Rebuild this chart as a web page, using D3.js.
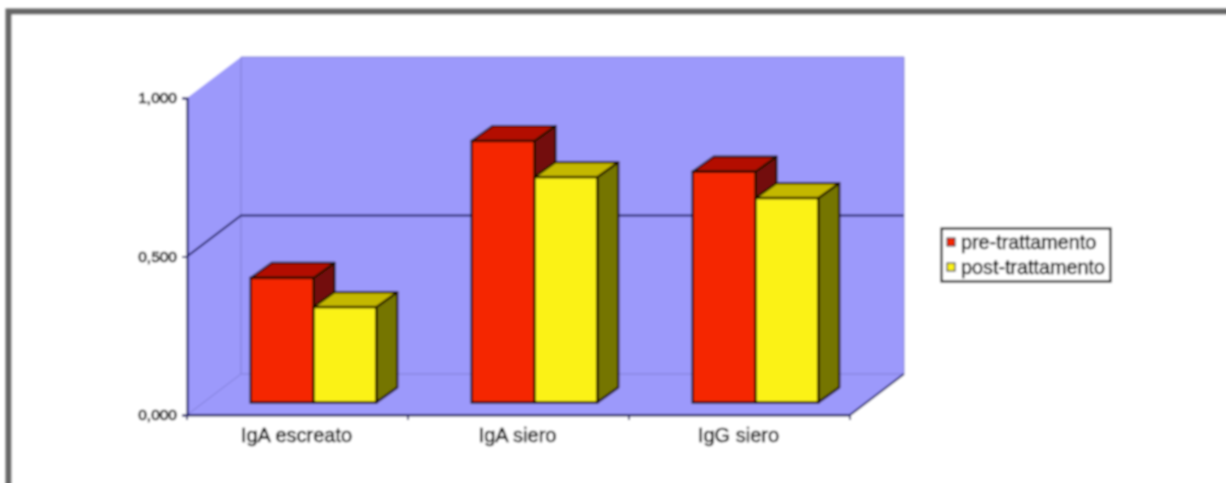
<!DOCTYPE html>
<html><head><meta charset="utf-8">
<script src="https://cdn.jsdelivr.net/npm/d3@7/dist/d3.min.js"></script>
<style>
html,body{margin:0;padding:0;background:#fff;width:1226px;height:483px;overflow:hidden}
svg{display:block;font-family:"Liberation Sans",Arial,sans-serif}
</style></head><body><div id="c"></div>
<script>
const categories=["IgA escreato","IgA siero","IgG siero"];
const seriesNames=["pre-trattamento","post-trattamento"];
const preValues=[0.393,0.825,0.728];
const postValues=[0.301,0.711,0.645];
const yTicks=[0,0.5,1];
const W=1226,H=483;
const svg=d3.select("#c").append("svg").attr("width",W).attr("height",H);
const defs=svg.append("defs");
defs.append("filter").attr("id","soft").attr("filterUnits","userSpaceOnUse").attr("x",0).attr("y",0).attr("width",W).attr("height",H)
  .append("feGaussianBlur").attr("stdDeviation",0.85);
const root=svg.append("g").attr("filter","url(#soft)");

const y=d3.scaleLinear().domain([0,1]).range([415,98]);
const x=d3.scaleBand().domain(categories).range([187,850]);
const dX=54,dY=-41;
const line="#1c1c66";
const pts=a=>a.map(p=>p.join(",")).join(" ");

// frame
root.append("rect").attr("x",8.5).attr("y",11.5).attr("width",1400).attr("height",900)
  .attr("fill","#fff").attr("stroke","#666").attr("stroke-width",6);

// walls
const x0=x.range()[0],x1=x.range()[1];
root.append("polygon").attr("fill","#9c99fb").attr("points",pts([[x0,y(1)],[x0+dX,y(1)+dY],[x1+dX,y(1)+dY],[x1+dX,y(0)+dY],[x1,y(0)],[x0,y(0)]]));
root.append("line").attr("x1",x0+dX).attr("x2",x0+dX).attr("y1",y(1)+dY).attr("y2",y(0)+dY).attr("stroke","#7f7cd6").attr("stroke-width",1);
root.append("line").attr("x1",x0+dX).attr("x2",x1+dX).attr("y1",y(1)+dY).attr("y2",y(1)+dY).attr("stroke","#7f7cd6").attr("stroke-width",1);
root.append("line").attr("x1",x1+dX).attr("x2",x1+dX).attr("y1",y(1)+dY).attr("y2",y(0)+dY).attr("stroke","#7f7cd6").attr("stroke-width",1);
root.append("polyline").attr("fill","none").attr("stroke","#7f7cd6").attr("points",pts([[x0,y(0)],[x0+dX,y(0)+dY],[x1+dX,y(0)+dY]]));
root.append("polyline").attr("fill","none").attr("stroke",line).attr("stroke-width",2).attr("points",pts([[x0,y(0)],[x1,y(0)],[x1+dX,y(0)+dY]]));
root.append("polyline").attr("fill","none").attr("stroke",line).attr("stroke-width",2).attr("points",pts([[x0,y(0.5)],[x0+dX,y(0.5)+dY],[x1+dX,y(0.5)+dY]]));

// axes
const yAxis=d3.axisLeft(y).tickValues(yTicks).tickSize(5).tickFormat(d=>d3.format(".3f")(d).replace(".",","));
const gy=root.append("g").attr("transform",`translate(${x0},0)`).call(yAxis);
const xAxis=d3.axisBottom(x).tickSize(0);
const gx=root.append("g").attr("transform","translate(0,415)").call(xAxis);
gx.selectAll(".tick text").attr("dy",0).attr("y",27).attr("dx",-1);
const bounds=[...categories.map(c=>x(c)),x1];
root.selectAll("line.xt").data(bounds).join("line").attr("class","xt")
  .attr("x1",d=>d).attr("x2",d=>d).attr("y1",415).attr("y2",420).attr("stroke",line).attr("stroke-width",1.8);
[gy,gx].forEach(g=>{
  g.selectAll(".domain").attr("stroke",line).attr("stroke-width",2.2);
  g.selectAll(".tick line").attr("stroke",line).attr("stroke-width",1.8);
  g.selectAll(".tick text").attr("fill","#000").attr("stroke","#000").attr("stroke-width",0.5).attr("font-size",20).attr("font-family",'"Liberation Sans",Arial,sans-serif');
});
gy.selectAll(".tick text").attr("font-size",15.5).attr("x",-10).attr("stroke-width",0.7);

// bars
const bandX=d3.scaleBand().domain(categories).range([x0+16,x1+16]).paddingInner(0.432).paddingOuter(0.216);
const sub=d3.scaleBand().domain([0,1]).range([0,bandX.bandwidth()]);
const baseY=402.5,bdx=21,bdy=-15,shiftBase=415-baseY;
const series=[
 {v:preValues,front:"#f52800",top:"#b31000",side:"#731008"},
 {v:postValues,front:"#fbf215",top:"#c4b800",side:"#747400"}];
const out="#1e0c04";
series.forEach((s,si)=>{
  const g=root.append("g");
  categories.forEach((c,ci)=>{
    const l=bandX(c)+sub(si),w=sub.bandwidth(),t=y(s.v[ci])-shiftBase,b=baseY;
    g.append("polygon").attr("fill",s.side).attr("stroke",out).attr("stroke-width",2.2).attr("stroke-linejoin","round")
      .attr("points",pts([[l+w,t],[l+w+bdx,t+bdy],[l+w+bdx,b+bdy],[l+w,b]]));
    g.append("polygon").attr("fill",s.top).attr("stroke",out).attr("stroke-width",2.2).attr("stroke-linejoin","round")
      .attr("points",pts([[l,t],[l+bdx,t+bdy],[l+w+bdx,t+bdy],[l+w,t]]));
    g.append("rect").attr("x",l).attr("y",t).attr("width",w).attr("height",b-t)
      .attr("fill",s.front).attr("stroke",out).attr("stroke-width",2.4);
  });
});

// legend
const lg=root.append("g").attr("transform","translate(941,228)");
lg.append("rect").attr("x",0.5).attr("y",0.5).attr("width",169).attr("height",53).attr("fill","#fff").attr("stroke","#111").attr("stroke-width",2.2);
seriesNames.forEach((n,i)=>{
  const yy=14+i*25;
  lg.append("rect").attr("x",6).attr("y",yy-4).attr("width",8).attr("height",8).attr("fill",series[i].front).attr("stroke","#111");
  lg.append("text").attr("x",20).attr("y",yy+7).attr("font-size",19.8).attr("fill","#000").attr("stroke","#000").attr("stroke-width",0.45).text(n);
});
</script></body></html>
